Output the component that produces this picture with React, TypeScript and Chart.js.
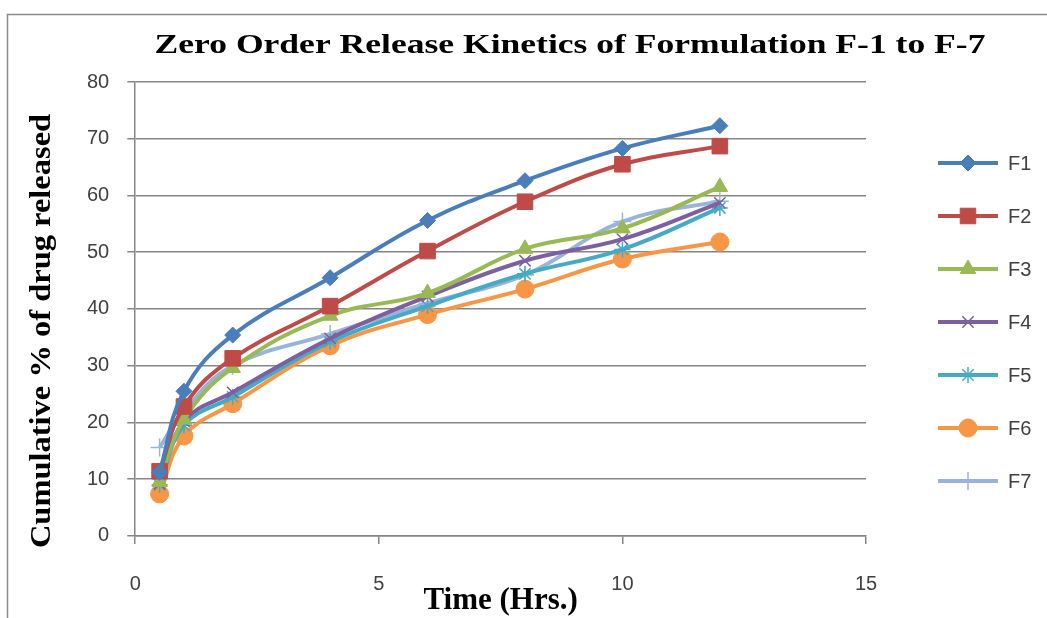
import React, { useEffect, useRef } from "react";
import { Chart, registerables } from "chart.js";
import { drawPoint } from "chart.js/helpers";

Chart.register(...registerables);

const timePoints = [0.5, 1, 2, 4, 6, 8, 10, 12];
const seriesNames = ["F1", "F2", "F3", "F4", "F5", "F6", "F7"];
const f1 = [11.2, 25.5, 35.4, 45.5, 55.6, 62.6, 68.3, 72.3];
const f2 = [11.4, 22.8, 31.3, 40.5, 50.2, 58.9, 65.5, 68.7];
const f3 = [9.5, 20.5, 29.6, 38.8, 42.8, 50.6, 54.2, 61.5];
const f4 = [9.2, 20.2, 25.3, 34.8, 42.2, 48.5, 52.3, 58.7];
const f5 = [9.0, 19.5, 24.5, 34.2, 40.5, 46.2, 50.5, 57.8];
const f6 = [7.4, 17.6, 23.3, 33.5, 39.0, 43.5, 48.8, 51.8];
const f7 = [15.6, 22.0, 30.0, 35.6, 41.0, 46.0, 55.4, 59.0];
const xTicks = [0, 5, 10, 15];
const chartTitle = "Zero Order Release Kinetics of Formulation F-1 to F-7";
const xTitle = "Time (Hrs.)";
const yTitle = "Cumulative % of drug released";

const seriesValues = [f1, f2, f3, f4, f5, f6, f7];
const colors = ["#4A7EBB", "#BE4B48", "#98B954", "#7D60A0", "#46AAC5", "#F79646", "#98B4DA"];
const styles = ["rectRot", "rect", "triangle", "crossRot", "star", "circle", "cross"];
const radii = [8, 11, 9, 8, 8, 9, 9];
const pbw = [1, 1, 1, 1.5, 1.5, 1, 1.5];

const SERIF = "'Liberation Serif', 'Times New Roman', serif";
const SANS = "'Liberation Sans', Arial, sans-serif";

const decorPlugin = {
  id: "decor",
  beforeDraw(chart: any) {
    const { ctx, width, height } = chart;
    ctx.save();
    ctx.fillStyle = "#ffffff";
    ctx.fillRect(0, 0, width, height);
    ctx.strokeStyle = "#8a8a8a";
    ctx.lineWidth = 1.5;
    ctx.beginPath();
    ctx.moveTo(7.5, height);
    ctx.lineTo(7.5, 14.5);
    ctx.lineTo(width, 14.5);
    ctx.stroke();
    ctx.restore();
  },
  afterDraw(chart: any) {
    const ctx = chart.ctx;
    // chart title
    ctx.save();
    ctx.fillStyle = "#000";
    ctx.font = `bold 28px ${SERIF}`;
    ctx.textAlign = "center";
    ctx.textBaseline = "middle";
    ctx.translate(570, 46);
    ctx.scale(1.27, 1);
    ctx.fillText(chartTitle, 0, 0);
    ctx.restore();
    // y axis title
    ctx.save();
    ctx.fillStyle = "#000";
    ctx.font = `bold 29px ${SERIF}`;
    ctx.textAlign = "center";
    ctx.textBaseline = "middle";
    ctx.translate(43, 331);
    ctx.rotate(-Math.PI / 2);
    ctx.scale(1.12, 1);
    ctx.fillText(yTitle, 0, 0);
    ctx.restore();
    // legend
    const x0 = 938;
    const y0 = 163;
    const step = 53;
    chart.data.datasets.forEach((ds: any, i: number) => {
      const y = y0 + i * step;
      ctx.save();
      ctx.strokeStyle = ds.borderColor;
      ctx.lineWidth = 4;
      ctx.beginPath();
      ctx.moveTo(x0, y);
      ctx.lineTo(x0 + 60, y);
      ctx.stroke();
      ctx.fillStyle = ds.pointBackgroundColor;
      ctx.strokeStyle = ds.pointBorderColor;
      ctx.lineWidth = ds.pointBorderWidth;
      drawPoint(ctx, { pointStyle: ds.pointStyle, radius: ds.pointRadius, rotation: 0, borderWidth: ds.pointBorderWidth }, x0 + 30, y);
      ctx.fillStyle = "#404040";
      ctx.font = `20px ${SANS}`;
      ctx.textAlign = "left";
      ctx.textBaseline = "middle";
      ctx.fillText(ds.label, x0 + 70, y + 1);
      ctx.restore();
    });
  },
};

export default function App() {
  const ref = useRef<HTMLCanvasElement>(null);
  useEffect(() => {
    document.body.style.margin = "0";
    const datasets = seriesNames.map((name, i) => ({
      label: name,
      data: timePoints.map((t, j) => ({ x: t, y: seriesValues[i][j] })),
      borderColor: colors[i],
      backgroundColor: colors[i],
      pointBackgroundColor: colors[i],
      pointBorderColor: colors[i],
      pointStyle: styles[i],
      pointRadius: radii[i],
      pointBorderWidth: pbw[i],
      borderWidth: 4,
      tension: 0.4,
      fill: false,
    }));
    const chart = new Chart(ref.current!, {
      type: "line",
      data: { datasets },
      plugins: [decorPlugin],
      options: {
        animation: false,
        responsive: true,
        maintainAspectRatio: false,
        layout: { padding: { left: 69, right: 181, top: 82, bottom: 0 } },
        plugins: {
          title: { display: false },
          legend: { display: false },
          tooltip: { enabled: false },
        },
        scales: {
          x: {
            type: "linear",
            min: 0,
            max: 15,
            afterBuildTicks: (axis: any) => {
              axis.ticks = xTicks.map((v) => ({ value: v }));
            },
            ticks: { color: "#404040", font: { family: SANS, size: 20 }, padding: 29 },
            grid: { display: true, drawOnChartArea: false, drawTicks: true, tickLength: 8, color: "#868686", lineWidth: 1.5 },
            border: { display: true, color: "#868686", width: 1.5 },
            title: {
              display: true,
              text: xTitle,
              color: "#000",
              font: { family: SERIF, size: 31, weight: "bold", lineHeight: 1.1 },
              padding: { top: -42, bottom: 0 },
            },
          },
          y: {
            min: 0,
            max: 80,
            ticks: { stepSize: 10, color: "#404040", font: { family: SANS, size: 20 }, padding: 18 },
            grid: { color: "#868686", lineWidth: 1.5, tickLength: 8 },
            border: { display: true, color: "#868686", width: 1.5 },
          },
        },
      },
    } as any);
    return () => chart.destroy();
  }, []);
  return (
    <div style={{ width: 1047, height: 618, position: "relative" }}>
      <canvas ref={ref} />
    </div>
  );
}
